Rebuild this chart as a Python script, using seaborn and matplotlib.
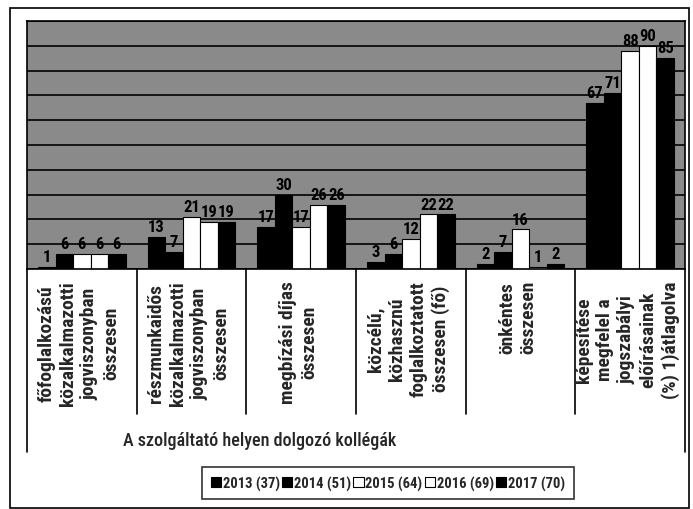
import matplotlib
matplotlib.use("Agg")
import matplotlib.pyplot as plt
import matplotlib.patches as mpatches
import numpy as np
import pandas as pd
import seaborn as sns

categories = [
    "főfoglalkozású\nközalkalmazotti\njogviszonyban\nösszesen",
    "részmunkaidős\nközalkalmazotti\njogviszonyban\nösszesen",
    "megbízási díjas\nösszesen",
    "közcélú,\nközhasznú\nfoglalkoztatott\nösszesen (fő)",
    "önkéntes\nösszesen",
    "képesítése\nmegfelel a\njogszabályi\nelőírásainak\n(%) 1)átlagolva",
]
years = ["2013 (37)", "2014 (51)", "2015 (64)", "2016 (69)", "2017 (70)"]
v2013 = [1, 13, 17, 3, 2, 67]
v2014 = [6, 7, 30, 6, 7, 71]
v2015 = [6, 21, 17, 12, 16, 88]
v2016 = [6, 19, 26, 22, 1, 90]
v2017 = [6, 19, 26, 22, 2, 85]
x_title = "A szolgáltató helyen dolgozó kollégák"

series = [v2013, v2014, v2015, v2016, v2017]
rows = []
for year, vals in zip(years, series):
    for cat, v in zip(categories, vals):
        rows.append({"cat": cat, "year": year, "val": v})
df = pd.DataFrame(rows)

sns.set_style("white")
plt.rcParams["font.family"] = ["Roboto Condensed", "Liberation Sans", "DejaVu Sans"]

fig = plt.figure(figsize=(6.93, 5.10), dpi=100)
ax = fig.add_axes([27 / 693, 1 - 270 / 510, (685 - 27) / 693, (270 - 22) / 510])
ax.set_facecolor("#8a8a8a")

palette = ["black", "black", "white", "white", "black"]
sns.barplot(data=df, x="cat", y="val", hue="year", order=categories, hue_order=years,
            palette=palette, edgecolor="black", linewidth=0.8, width=0.8, ax=ax)

for cont in ax.containers:
    ax.bar_label(cont, padding=2, fontsize=12, fontweight="bold", color="black")

ax.set_ylim(0, 100)
ax.set_xlim(-0.5, 5.5)
ax.set_yticks(np.arange(0, 101, 10))
ax.set_yticklabels([])
ax.tick_params(axis="both", length=0)
ax.yaxis.grid(True, color="black", linewidth=1.2)
ax.set_axisbelow(True)
ax.set_xticks(range(len(categories)))
ax.set_xticklabels([])
ax.set_xlabel("")
ax.set_ylabel("")
for s in ax.spines.values():
    s.set_color("black")
    s.set_linewidth(1.2)

# category labels under the axis
for i, cat in enumerate(categories):
    ax.annotate(cat, xy=(i, 0), xycoords=("data", "axes fraction"),
                xytext=(-2, -8), textcoords="offset points",
                rotation=90, ha="center", va="top", multialignment="center",
                fontsize=14, fontweight="bold", linespacing=1.25, annotation_clip=False)

# separators between categories
trans = ax.get_xaxis_transform()
for b in np.arange(0.5, 5.5, 1):
    ax.plot([b, b], [0, -(415 - 270) / 248], color="black", lw=1.2,
            transform=trans, clip_on=False)
for b in [-0.5, 5.5]:
    ax.plot([b, b], [0, -(453 - 270) / 248], color="black", lw=1.2,
            transform=trans, clip_on=False)

fig.text(260 / 693, 1 - 441 / 510, x_title, ha="center", va="center",
         fontsize=13, fontweight="medium")

handles, labels = ax.get_legend_handles_labels()
ax.get_legend().remove()
leg = fig.legend(handles, labels, loc="center", bbox_to_anchor=(388 / 693, 1 - 484 / 510),
                 ncol=5, fontsize=10.5, handlelength=0.7, handleheight=0.7,
                 handletextpad=0.12, columnspacing=0.15, borderpad=0.6,
                 frameon=True, fancybox=False, edgecolor="black")
leg.get_frame().set_linewidth(1.2)
for t in leg.get_texts():
    t.set_fontweight("bold")

fig.patches.append(mpatches.Rectangle((10 / 693, 1 / 510), 679 / 693, 500 / 510,
                                      transform=fig.transFigure, fill=False,
                                      edgecolor="black", lw=1.2))

fig.savefig("out.png", dpi=100)
